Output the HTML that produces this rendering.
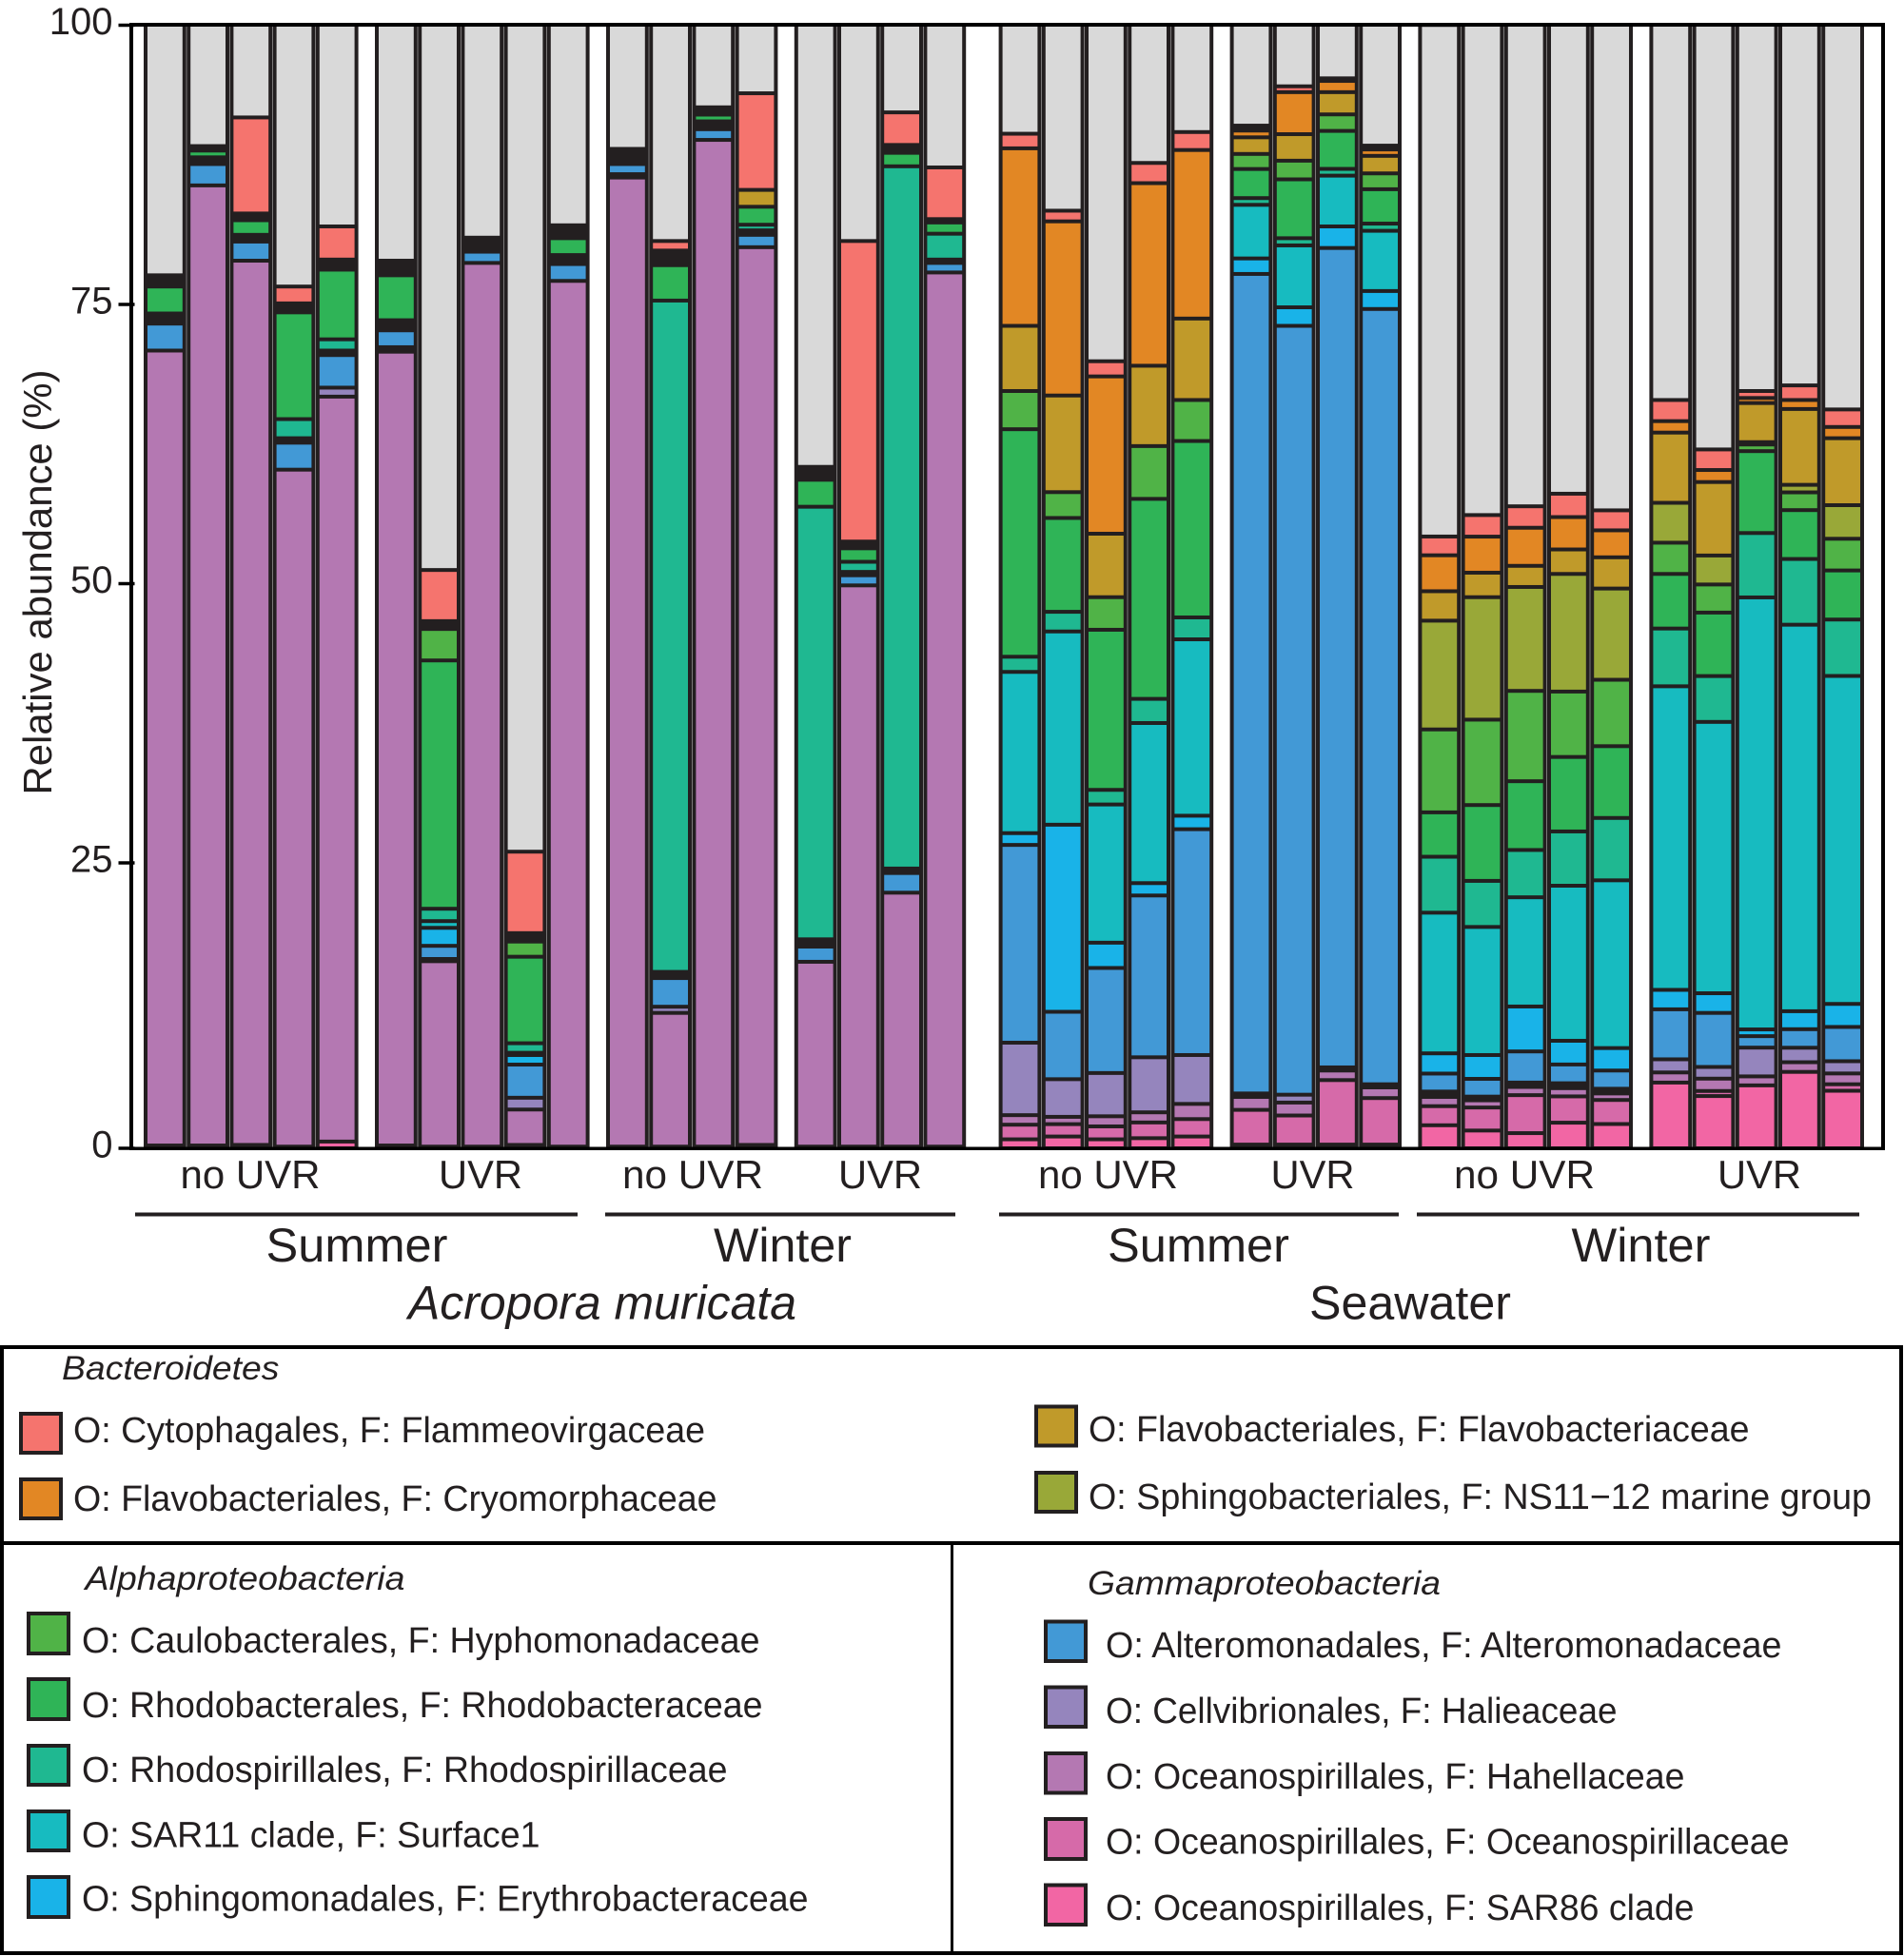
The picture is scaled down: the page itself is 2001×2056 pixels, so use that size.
<!DOCTYPE html>
<html lang="en">
<head>
<meta charset="utf-8">
<title>Relative abundance of bacterial families</title>
<style>
html,body{margin:0;padding:0;background:#fff;}
svg{display:block;}
text{font-family:"Liberation Sans",Arial,sans-serif;fill:#231f20;}
.it{font-style:italic;}
</style>
</head>
<body>
<svg id="chart" width="2001" height="2056" viewBox="0 0 2001 2056" xmlns="http://www.w3.org/2000/svg">
  <rect x="0" y="0" width="2001" height="2056" fill="#ffffff"/>
  <g id="bars"></g>
  <g id="axes">
    <rect x="136" y="24" width="4" height="1185" fill="#000"/>
    <rect x="1977" y="24" width="4" height="1185" fill="#000"/>
    <rect x="136" y="24" width="1845" height="4" fill="#000"/>
    <rect x="136" y="1205.5" width="1845" height="3.5" fill="#000"/>
  </g>
  <g id="ticks"></g>
  <text transform="translate(54,835.5) rotate(-90)" font-size="42" textLength="447" lengthAdjust="spacingAndGlyphs">Relative abundance (%)</text>

  <g font-size="42">
    <text x="189.5" y="1249" textLength="147" lengthAdjust="spacingAndGlyphs">no UVR</text>
    <text x="461" y="1249" textLength="88" lengthAdjust="spacingAndGlyphs">UVR</text>
    <text x="654" y="1249" textLength="148" lengthAdjust="spacingAndGlyphs">no UVR</text>
    <text x="881" y="1249" textLength="88" lengthAdjust="spacingAndGlyphs">UVR</text>
    <text x="1091" y="1249" textLength="147" lengthAdjust="spacingAndGlyphs">no UVR</text>
    <text x="1335.5" y="1249" textLength="88" lengthAdjust="spacingAndGlyphs">UVR</text>
    <text x="1528" y="1249" textLength="148" lengthAdjust="spacingAndGlyphs">no UVR</text>
    <text x="1805" y="1249" textLength="88" lengthAdjust="spacingAndGlyphs">UVR</text>
  </g>
  <g fill="#231f20">
    <rect x="142" y="1274.5" width="465" height="4"/>
    <rect x="636" y="1274.5" width="368" height="4"/>
    <rect x="1050" y="1274.5" width="420" height="4"/>
    <rect x="1489" y="1274.5" width="465" height="4"/>
  </g>
  <g font-size="50">
    <text x="279.5" y="1326" textLength="191" lengthAdjust="spacingAndGlyphs">Summer</text>
    <text x="750" y="1326" textLength="145" lengthAdjust="spacingAndGlyphs">Winter</text>
    <text x="1164" y="1326" textLength="191" lengthAdjust="spacingAndGlyphs">Summer</text>
    <text x="1651.5" y="1326" textLength="146" lengthAdjust="spacingAndGlyphs">Winter</text>
    <text class="it" x="429" y="1386.5" textLength="408" lengthAdjust="spacingAndGlyphs">Acropora muricata</text>
    <text x="1376" y="1386.5" textLength="212" lengthAdjust="spacingAndGlyphs">Seawater</text>
  </g>

  <g>
    <rect x="2" y="1416" width="1996" height="637" fill="none" stroke="#000" stroke-width="4"/>
    <rect x="2" y="1620" width="1996" height="4" fill="#000"/>
    <rect x="999" y="1622" width="3" height="431" fill="#000"/>

    <g font-size="38">
      <text class="it" font-size="35" x="65" y="1450" textLength="228.5" lengthAdjust="spacingAndGlyphs">Bacteroidetes</text>
      <g>
        <rect x="22" y="1486" width="42" height="41" fill="#f5746e" stroke="#231f20" stroke-width="4"/>
        <text x="77" y="1516" textLength="664" lengthAdjust="spacingAndGlyphs">O: Cytophagales, F: Flammeovirgaceae</text>
      </g>
      <g>
        <rect x="22" y="1555" width="42" height="41" fill="#e28724" stroke="#231f20" stroke-width="4"/>
        <text x="77" y="1588" textLength="676.5" lengthAdjust="spacingAndGlyphs">O: Flavobacteriales, F: Cryomorphaceae</text>
      </g>
      <g>
        <rect x="1089" y="1478.5" width="42" height="41" fill="#c09a2a" stroke="#231f20" stroke-width="4"/>
        <text x="1144" y="1515" textLength="694.5" lengthAdjust="spacingAndGlyphs">O: Flavobacteriales, F: Flavobacteriaceae</text>
      </g>
      <g>
        <rect x="1089" y="1548" width="42" height="41" fill="#99a838" stroke="#231f20" stroke-width="4"/>
        <text x="1144" y="1586" textLength="823" lengthAdjust="spacingAndGlyphs">O: Sphingobacteriales, F: NS11−12 marine group</text>
      </g>

      <text class="it" font-size="35" x="89.5" y="1671" textLength="336" lengthAdjust="spacingAndGlyphs">Alphaproteobacteria</text>
      <g>
        <rect x="30" y="1696" width="42" height="42" fill="#50b347" stroke="#231f20" stroke-width="4"/>
        <text x="86" y="1737" textLength="712.5" lengthAdjust="spacingAndGlyphs">O: Caulobacterales, F: Hyphomonadaceae</text>
      </g>
      <g>
        <rect x="30" y="1765" width="42" height="42" fill="#2fb457" stroke="#231f20" stroke-width="4"/>
        <text x="86" y="1805" textLength="715.5" lengthAdjust="spacingAndGlyphs">O: Rhodobacterales, F: Rhodobacteraceae</text>
      </g>
      <g>
        <rect x="30" y="1835" width="42" height="41" fill="#1fb891" stroke="#231f20" stroke-width="4"/>
        <text x="86" y="1873" textLength="678.5" lengthAdjust="spacingAndGlyphs">O: Rhodospirillales, F: Rhodospirillaceae</text>
      </g>
      <g>
        <rect x="30" y="1904" width="42" height="41" fill="#17bbc0" stroke="#231f20" stroke-width="4"/>
        <text x="86" y="1941.5" textLength="481.5" lengthAdjust="spacingAndGlyphs">O: SAR11 clade, F: Surface1</text>
      </g>
      <g>
        <rect x="30" y="1973" width="42" height="42" fill="#19b3e8" stroke="#231f20" stroke-width="4"/>
        <text x="86" y="2008.5" textLength="763.5" lengthAdjust="spacingAndGlyphs">O: Sphingomonadales, F: Erythrobacteraceae</text>
      </g>

      <text class="it" font-size="35" x="1143" y="1676" textLength="371" lengthAdjust="spacingAndGlyphs">Gammaproteobacteria</text>
      <g>
        <rect x="1099" y="1704.5" width="42" height="41.5" fill="#4299d6" stroke="#231f20" stroke-width="4"/>
        <text x="1162" y="1742" textLength="710.5" lengthAdjust="spacingAndGlyphs">O: Alteromonadales, F: Alteromonadaceae</text>
      </g>
      <g>
        <rect x="1099" y="1773.5" width="42" height="41.5" fill="#9585bd" stroke="#231f20" stroke-width="4"/>
        <text x="1162" y="1811" textLength="537.5" lengthAdjust="spacingAndGlyphs">O: Cellvibrionales, F: Halieaceae</text>
      </g>
      <g>
        <rect x="1099" y="1843" width="42" height="41.5" fill="#b478b2" stroke="#231f20" stroke-width="4"/>
        <text x="1162" y="1880" textLength="608.5" lengthAdjust="spacingAndGlyphs">O: Oceanospirillales, F: Hahellaceae</text>
      </g>
      <g>
        <rect x="1099" y="1912" width="42" height="42" fill="#d66aa9" stroke="#231f20" stroke-width="4"/>
        <text x="1162" y="1948.5" textLength="718.5" lengthAdjust="spacingAndGlyphs">O: Oceanospirillales, F: Oceanospirillaceae</text>
      </g>
      <g>
        <rect x="1099" y="1981.5" width="42" height="41.5" fill="#f266a4" stroke="#231f20" stroke-width="4"/>
        <text x="1162" y="2018" textLength="618.5" lengthAdjust="spacingAndGlyphs">O: Oceanospirillales, F: SAR86 clade</text>
      </g>
    </g>
  </g>
</svg>
<script>
// Tick labels
const yTicks = [0, 25, 50, 75, 100];
// Samples per treatment group, left to right
const groupSizes = [5, 5, 4, 4, 5, 4, 5, 5];
// Series values (% abundance), one per sample; stacked bottom to top in this order.
const baseRare = [.25,.25,.3,.15,0,.25,.15,.15,.3,.15, .15,.15,.15,.3,.15,.15,.15,.15, 0,0,0,0,0, .33,.33,.33,.33, 0,0,0,0,0, 0,0,0,0,0];
const sar86 = [0,0,0,0,.6,0,0,0,0,0, 0,0,0,0,0,0,0,0, .8,1.05,.8,.9,1.05, 0,0,0,0, 2.05,1.58,1.35,2.28,2.16, 5.85,4.65,5.6,6.8,5.12];
const oceanospirillaceae = [0,0,0,0,0,0,0,0,0,0, 0,0,0,0,0,0,0,0, 1.3,1.1,1.15,1.4,1.55, 3.09,2.59,5.74,4.14, 1.7,2.05,3.38,2.34,2.14, 0,.45,0,0,.58];
const hahellaceae = [70.75,85.45,78.7,60.25,66.3,70.65,16.5,78.65,3.15,77.05, 86.25,11.9,89.6,79.9,16.45,49.95,22.6,77.8, .85,.65,.9,.9,1.35, 1.15,1.15,.85,.95, .82,.64,.73,.73,.58, .9,1.1,.8,.86,.96];
const halieaceae = [0,0,0,0,.8,0,0,0,1.05,0, 0,.55,0,0,0,0,0,0, 6.45,3.35,3.85,4.9,4.35, 0,.7,0,0, 0,0,0,0,0, 1.17,1.04,2.56,1.29,1.09];
const lowRare = [0,0,0,0,0,.4,.2,0,0,0, .3,0,0,0,0,0,0,0, 0,0,0,0,0, .31,0,.28,.28, .48,.33,.39,.44,.42, 0,0,0,0,0];
const alteromonadaceae = [2.4,1.9,1.7,2.4,2.9,1.5,1.17,1,2.95,1.5, .9,2.55,.95,1.1,1.35,.9,1.75,.85, 17.6,6,9.35,14.4,20.1, 72.94,68.43,72.93,69, 1.6,1.58,2.77,1.67,1.62, 4.45,4.81,1.02,1.65,3.05];
const erythrobacteraceae = [0,0,0,0,0,0,1.6,0,.85,0, 0,0,0,0,0,0,0,0, 1.05,16.65,2.25,1.1,1.2, 1.38,1.65,1.92,1.6, 1.8,2.12,4,2.11,2, 1.73,1.75,.6,1.6,2.05];
const midRare = [.9,.6,.6,.4,.4,.9,0,0,.2,.8, 0,.55,.7,.4,.65,.3,.4,.3, 0,0,0,0,0, 0,0,0,0, 0,0,0,0,0, 0,0,0,0,0];
const surface1 = [0,0,0,0,0,0,.6,0,0,0, 0,0,0,0,0,0,0,0, 14.35,17.2,12.3,14.25,15.7, 4.77,5.51,4.52,5.36, 12.52,11.4,9.72,13.8,14.93, 27.02,24.15,38.45,34.4,29.19];
const rhodospirillaceae = [0,0,0,1.7,1,0,1.1,0,.85,0, 0,59.75,0,.5,38.5,.9,62.5,2.3, 1.35,1.75,1.3,2.15,1.95, .6,.64,.6,.64, 4.98,4.1,4.21,4.83,5.55, 5.14,4.08,5.73,5.85,5.02];
const rhodobacteraceae = [2.4,.6,1.3,9.5,6.2,4,22.1,0,7.7,1.5, 0,3.15,.6,1.6,2.4,1.2,1.2,1, 20.25,8.35,14.25,17.8,15.7, 2.59,5.24,3.38,3.06, 3.95,6.75,6.12,6.63,6.39, 4.86,5.65,7.29,4.35,4.37];
const hyphomonadaceae = [0,0,0,0,0,0,2.8,0,1.35,0, 0,0,0,0,0,0,0,0, 3.4,2.3,2.9,4.7,3.65, 1.34,1.66,1.47,1.41, 7.38,7.6,8.04,5.82,5.91, 2.78,2.5,.59,1.58,2.82];
const ns1112 = [0,0,0,0,0,0,0,0,0,0, 0,0,0,0,0,0,0,0, 0,0,0,0,0, 0,0,0,0, 9.68,10.9,9.25,10.47,8.12, 3.55,2.58,0,.67,2.99];
const upperRare = [0,0,.6,.8,.9,0,.7,0,.75,0, 0,1.3,0,0,0,.6,.7,.3, 0,0,0,0,0, 0,0,0,0, 0,0,0,0,0, 0,0,.21,0,0];
const flavobacteriaceae = [0,0,0,0,0,0,0,0,0,0, 0,0,0,1.5,0,0,0,0, 5.8,8.6,5.65,7.15,7.25, 1.48,2.36,1.98,1.56, 2.62,2.18,1.88,2.18,2.78, 6.25,6.54,3.48,6.75,5.96];
const cryomorphaceae = [0,0,0,0,0,0,0,0,0,0, 0,0,0,0,0,0,0,0, 15.8,15.5,14,16.25,15, .6,3.74,1,.57, 3.2,3.21,3.39,2.88,2.4, 1.02,1.07,.45,.8,1];
const flammeovirgaceae = [0,0,8.55,1.5,2.95,0,4.55,0,7.25,0, 0,.85,0,8.6,0,26.75,2.9,4.6, 1.3,.95,1.35,1.8,1.6, 0,.52,0,0, 1.67,1.92,1.91,2.08,1.78, 1.88,1.83,.62,1.3,1.56];
const topRare = [1,.4,0,0,0,1.3,0,1.25,0,1.15, 1.35,0,.65,0,1.15,0,0,0, 0,0,0,0,0, .44,0,.23,.34, 0,0,0,0,0, 0,0,0,0,0];
const otherTaxa = [22.3,10.8,8.25,23.3,17.95,21,48.55,18.95,73.6,17.85, 11.05,19.25,7.35,6.1,39.35,19.25,7.8,12.7, 9.7,16.55,29.95,12.3,9.55, 8.98,5.48,4.77,10.76, 45.53,43.64,42.86,41.74,43.22, 33.4,37.8,32.6,32.1,34.24];

const stackOrder = [
  ['rare-base', baseRare, null],
  ['sar86-clade', sar86, '#f266a4'],
  ['oceanospirillaceae', oceanospirillaceae, '#d66aa9'],
  ['hahellaceae', hahellaceae, '#b478b2'],
  ['halieaceae', halieaceae, '#9585bd'],
  ['rare-low', lowRare, null],
  ['alteromonadaceae', alteromonadaceae, '#4299d6'],
  ['erythrobacteraceae', erythrobacteraceae, '#19b3e8'],
  ['rare-mid', midRare, null],
  ['surface1', surface1, '#17bbc0'],
  ['rhodospirillaceae', rhodospirillaceae, '#1fb891'],
  ['rhodobacteraceae', rhodobacteraceae, '#2fb457'],
  ['hyphomonadaceae', hyphomonadaceae, '#50b347'],
  ['ns11-12', ns1112, '#99a838'],
  ['rare-upper', upperRare, null],
  ['flavobacteriaceae', flavobacteriaceae, '#c09a2a'],
  ['cryomorphaceae', cryomorphaceae, '#e28724'],
  ['flammeovirgaceae', flammeovirgaceae, '#f5746e'],
  ['rare-top', topRare, null],
  ['other', otherTaxa, '#d9d9d9']
];

const SVG_NS = 'http://www.w3.org/2000/svg';
function yScale(v) { return 1207 - v * 11.81; }
// The printed axis in the figure has its upper ticks evenly spaced and its zero tick on the baseline.
function tickScale(t) { return t === 0 ? yScale(0) : 1200.5 - t * 11.74; }
function sampleLefts() {
  const lefts = [];
  let x = 155;
  groupSizes.forEach(function (size, g) {
    for (let i = 0; i < size; i++) {
      lefts.push(x);
      x += 45.2;
    }
    x += (g === 3) ? 34 : 17;
  });
  return lefts;
}
const barsLayer = document.getElementById('bars');
const ticksLayer = document.getElementById('ticks');
const barWidth = 36.8;
const darkPad = 4;

sampleLefts().forEach(function (x, i) {
  const col = document.createElementNS(SVG_NS, 'rect');
  
  
  col.setAttribute('x', x - darkPad);
  col.setAttribute('y', yScale(100));
  col.setAttribute('width', barWidth + 2 * darkPad);
  col.setAttribute('height', yScale(0) - yScale(100));
  col.setAttribute('fill', '#231f20');
  barsLayer.appendChild(col);

  let cum = 0;
  stackOrder.forEach(function (s) {
    const v = s[1][i];
    const bottom = yScale(cum);
    cum += v;
    const top = yScale(cum);
    if (!s[2] || v <= 0) return;
    const h = bottom - top - 4;
    const seg = document.createElementNS(SVG_NS, 'rect');
    
    
    seg.setAttribute('x', x);
    seg.setAttribute('y', top + 2);
    seg.setAttribute('width', barWidth);
    seg.setAttribute('height', Math.max(h, 1));
    seg.setAttribute('fill', s[2]);
    barsLayer.appendChild(seg);
  });
});

yTicks.forEach(function (t) {
  const mark = document.createElementNS(SVG_NS, 'rect');
  
  
  mark.setAttribute('x', 124.5);
  mark.setAttribute('y', tickScale(t) - 1.75);
  mark.setAttribute('width', 17);
  mark.setAttribute('height', 3.5);
  mark.setAttribute('fill', '#000');
  ticksLayer.appendChild(mark);

  const label = document.createElementNS(SVG_NS, 'text');
  
  
  label.setAttribute('x', 118.5);
  label.setAttribute('y', tickScale(t) + 9.5);
  label.setAttribute('font-size', '40');
  label.setAttribute('text-anchor', 'end');
  label.textContent = String(t);
  ticksLayer.appendChild(label);
});
</script>
</body>
</html>
